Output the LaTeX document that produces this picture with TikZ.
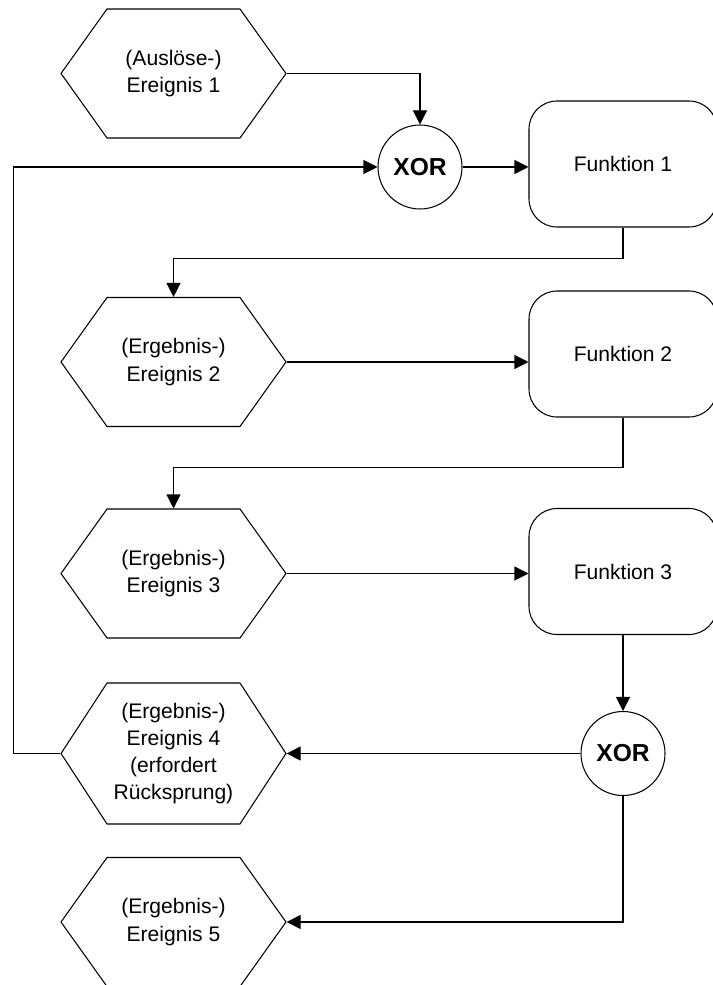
\documentclass[tikz,border=0pt]{standalone}
\usepackage{fontspec}
\setmainfont{Liberation Sans}
\usetikzlibrary{positioning,shapes.symbols,arrows.meta}
\tikzstyle{event} = [draw, signal, signal to=west and east, signal pointer angle=109, minimum width=4.5cm, minimum height=2.58cm, inner sep=0pt, align=center, font=\fontsize{12}{15.5}\selectfont]
\tikzstyle{func} = [draw, rectangle, rounded corners=0.56cm, minimum width=3.76cm, minimum height=2.52cm, font=\fontsize{12}{15.5}\selectfont]
\tikzstyle{conn} = [draw, circle, minimum size=1.68cm, inner sep=0pt, font=\fontsize{14}{16}\selectfont\bfseries]

\begin{document}
\begin{tikzpicture}[auto, line width=0.6pt, >={Triangle[length=0.28cm, width=0.28cm]}]

\useasboundingbox (0,0) rectangle (14.24,-19.7);

\node [event] (ev1) at (3.47,-1.47) {(Auslöse-)\\Ereignis 1};
\node [conn, right of=ev1, node distance=4.93cm, yshift=-1.87cm] (xor1) {XOR};
\node [func, right of=xor1, node distance=4.06cm, yshift=0.06cm] (fn1) {Funktion 1};

\node [event, below of=ev1, node distance=5.77cm] (ev2) {(Ergebnis-)\\Ereignis 2};
\node [func, right of=ev2, node distance=8.99cm, yshift=0.16cm] (fn2) {Funktion 2};

\node [event, below of=ev2, node distance=4.23cm] (ev3) {(Ergebnis-)\\Ereignis 3};
\node [func, right of=ev3, node distance=8.99cm, yshift=0.04cm] (fn3) {Funktion 3};

\node [event, below of=ev3, node distance=3.6cm, minimum height=2.82cm, signal pointer angle=113.7] (ev4) {(Ergebnis-)\\Ereignis 4\\(erfordert\\Rücksprung)};
\node [conn, right of=ev4, node distance=8.99cm] (xor2) {XOR};

\node [event, below of=ev4, node distance=3.37cm] (ev5) {(Ergebnis-)\\Ereignis 5};

\draw [->] (ev1.east) -| (xor1);
\draw [->] (xor1.east) -- (xor1.east -| fn1.west);
\draw [->] (fn1.south) -- ++(0,-0.62) -| (ev2.north);
\draw [->] (ev2.east) -- (ev2.east -| fn2.west);
\draw [->] (fn2.south) -- ++(0,-1.0) -| (ev3.north);
\draw [->] (ev3.east) -- (ev3.east -| fn3.west);
\draw [->] (fn3.south) -- (xor2);
\draw [->] (xor2.west) -- (ev4.east);
\draw [->] (xor2.south) |- (ev5.east);
\draw [->] (ev4.west) -- ++(-0.94,0) |- (xor1.west);

\end{tikzpicture}
\end{document}
